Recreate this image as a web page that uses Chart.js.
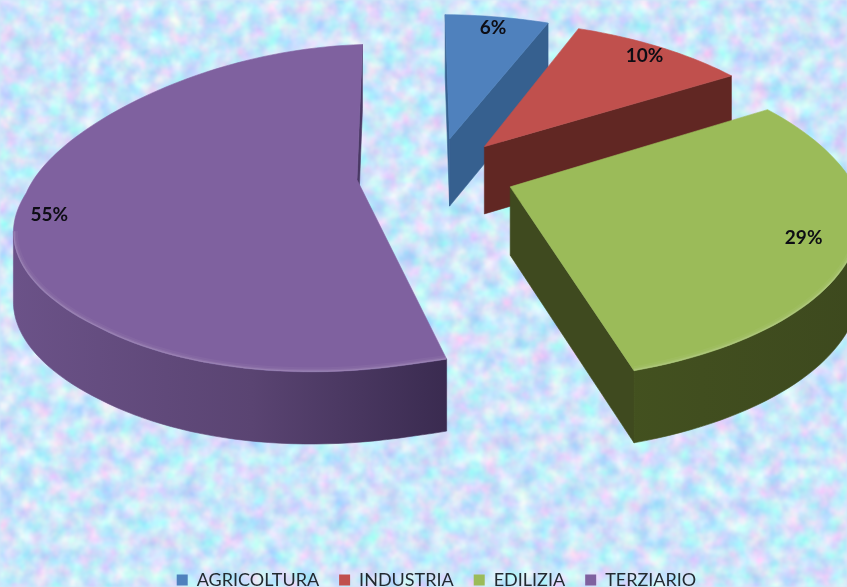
<!DOCTYPE html>
<html><head><meta charset="utf-8">
<style>
html,body{margin:0;padding:0;width:847px;height:587px;overflow:hidden;background:#d2e8fa}
#bg{position:absolute;left:0;top:0}
#wrap{position:absolute;left:0;top:0;width:847px;height:599px}
</style>
<script src="https://cdn.jsdelivr.net/npm/chart.js@4"></script>
</head><body>
<svg id="bg" width="847" height="587" xmlns="http://www.w3.org/2000/svg">
<filter id="n" x="0" y="0" width="100%" height="100%" color-interpolation-filters="sRGB">
<feTurbulence type="fractalNoise" baseFrequency="0.06" numOctaves="3" seed="7"/>
<feColorMatrix type="matrix" values="0.5 0 0 0 0.55  0 0.32 0 0 0.74  0 0 0.08 0 0.94  0 0 0 0 1"/>
<feGaussianBlur stdDeviation="1"/>
</filter>
<rect width="847" height="587" filter="url(#n)"/>
</svg>
<div id="wrap"><canvas id="c" width="847" height="599"></canvas></div>
<script>
const categories = ['AGRICOLTURA', 'INDUSTRIA', 'EDILIZIA', 'TERZIARIO'];
const shares = [6, 10, 29, 55];
const valueLabels = ['6%', '10%', '29%', '55%'];
const faceColors = ['#4F81BD', '#C0504D', '#9BBB59', '#7F619F'];
const wallLight = ['#3A6494', '#612723', '#46561F', '#6B5288'];
const wallMid = ['#38608F', '#602623', '#414E1F', '#5A4472'];
const wallDark = ['#365C8A', '#5E2624', '#3D491E', '#3A2B50'];
const cutColors = ['#36608F', '#612723', '#3F4A1F', '#4A3864'];
const explode = 57.5;
const labelRadius = [0.9, 0.9, 0.86, 0.9];
// camera: projective map of the pie plane on to the page, with small lens corrections
const cam = {a: 340, b: -80, bn: -21, q: -3, rx: -20, c: 436, d: 3, e: 127, en: -8, f: 174, h: -0.19, ry: -8, sy: 15, sx: 5.5, kx: -30, depth0: 68, depthV: 4};

function project(u, v) {
  const w = 1 + cam.h * v, near = Math.max(v, 0), far = Math.min(v, 0), left = Math.min(u, 0);
  const fall = Math.max(0, 1 - 1.2 * v);
  const x = (cam.c + cam.a * u + cam.b * v + cam.bn * near + cam.q * u * near + cam.rx * left * near + cam.kx * left * far + cam.sx * left * left * fall) / w;
  const y = (cam.f + cam.d * u + cam.e * v + cam.en * near + cam.ry * left * near + cam.sy * left * left * fall) / w;
  return {x, y, yb: y + cam.depth0 + cam.depthV * v};
}
function outline(arc) {
  const R = arc.outerRadius, k = arc.options.offset / R;
  const mid = (arc.startAngle + arc.endAngle) / 2;
  const ox = Math.cos(mid) * k, oy = Math.sin(mid) * k;
  const pts = [project(ox, oy)];
  const n = Math.max(6, Math.round((arc.endAngle - arc.startAngle) / 0.03));
  for (let i = 0; i <= n; i++) {
    const t = arc.startAngle + (arc.endAngle - arc.startAngle) * i / n;
    pts.push(project(ox + Math.cos(t), oy + Math.sin(t)));
  }
  return {pts, ox, oy, mid};
}
function strip(ctx, run) {
  ctx.beginPath();
  run.forEach((p, j) => j ? ctx.lineTo(p.x, p.y) : ctx.moveTo(p.x, p.y));
  for (let j = run.length - 1; j >= 0; j--) ctx.lineTo(run[j].x, run[j].yb);
  ctx.closePath(); ctx.fill(); ctx.stroke();
}
// contiguous rim stretches whose top edge runs right-to-left face the viewer
function visibleRuns(pts) {
  const runs = []; let cur = null;
  for (let j = 1; j < pts.length - 1; j++) {
    if (pts[j + 1].x < pts[j].x) {
      if (!cur) { cur = [pts[j]]; runs.push(cur); }
      cur.push(pts[j + 1]);
    } else cur = null;
  }
  return runs;
}
const pie3d = {
  id: 'pie3d',
  beforeDatasetsDraw(chart) {
    const ctx = chart.ctx, arcs = chart.getDatasetMeta(0).data;
    const shapes = arcs.map(outline);
    arcs.forEach((arc, i) => {
      const {pts} = shapes[i], m = pts.length, runs = visibleRuns(pts);
      ctx.save();
      ctx.lineWidth = 0.6; ctx.lineJoin = 'round';
      const xs = pts.map(p => p.x);
      const g = ctx.createLinearGradient(Math.min(...xs), 0, Math.max(...xs), 0);
      g.addColorStop(0, wallLight[i]); g.addColorStop(0.55, wallMid[i]); g.addColorStop(1, wallDark[i]);
      ctx.fillStyle = ctx.strokeStyle = cutColors[i];
      [[0, 1], [m - 1, 0]].forEach(([a, b]) => { if (pts[b].x < pts[a].x) strip(ctx, [pts[a], pts[b]]); });
      ctx.fillStyle = ctx.strokeStyle = g;
      runs.forEach(r => strip(ctx, r));
      ctx.beginPath();
      pts.forEach((p, j) => j ? ctx.lineTo(p.x, p.y) : ctx.moveTo(p.x, p.y));
      ctx.closePath();
      ctx.fillStyle = ctx.strokeStyle = faceColors[i];
      ctx.fill(); ctx.stroke();
      // soft bevel along the near rim
      ctx.clip();
      [[9, .04], [5, .06], [2.5, .12]].forEach(([lw, al]) => {
        ctx.lineWidth = lw; ctx.strokeStyle = 'rgba(255,255,255,' + al + ')';
        ctx.beginPath();
        runs.forEach(r => r.forEach((p, j) => j ? ctx.lineTo(p.x, p.y) : ctx.moveTo(p.x, p.y)));
        ctx.stroke();
      });
      ctx.restore();
    });
    ctx.save();
    ctx.font = 'bold 19px Lato';
    ctx.fillStyle = '#0d0d14'; ctx.textAlign = 'center'; ctx.textBaseline = 'middle';
    arcs.forEach((arc, i) => {
      const s = shapes[i], r = labelRadius[i];
      const p = project(s.ox + Math.cos(s.mid) * r, s.oy + Math.sin(s.mid) * r);
      ctx.fillText(valueLabels[i], p.x, p.y);
    });
    ctx.restore();
    return false;
  }
};
new Chart(document.getElementById('c'), {
  type: 'pie',
  data: {labels: categories, datasets: [{data: shares, backgroundColor: faceColors, borderWidth: 0, offset: explode}]},
  options: {
    responsive: false, animation: false,
    layout: {padding: {left: 26}},
    plugins: {
      tooltip: {enabled: false},
      legend: {position: 'bottom', labels: {font: {family: 'Lato', size: 18}, color: '#222a30', boxWidth: 11, boxHeight: 11, padding: 20}}
    }
  },
  plugins: [pie3d]
});
</script>
</body></html>
